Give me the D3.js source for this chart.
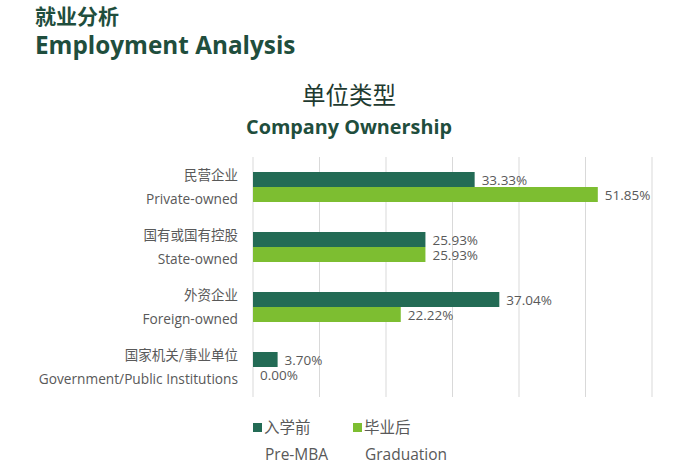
<!DOCTYPE html>
<html><head><meta charset="utf-8">
<script src="https://cdn.jsdelivr.net/npm/d3@7"></script>
<style>body{margin:0;background:#fff}</style>
</head><body>
<script>
const categoriesZh = ["民营企业","国有或国有控股","外资企业","国家机关/事业单位"];
const categoriesEn = ["Private-owned","State-owned","Foreign-owned","Government/Public Institutions"];
const preMBA = [33.33, 25.93, 37.04, 3.70];
const graduation = [51.85, 25.93, 22.22, 0.00];
const seriesNames = ["入学前","毕业后"];
const seriesEn = ["Pre-MBA","Graduation"];
const xTicks = [0,10,20,30,40,50,60];
const colors = ["#236B55","#7DBE31"];

const W=697,H=476;
const svg=d3.select("body").append("svg").attr("width",W).attr("height",H);
const font="'Open Sans','Noto Sans CJK SC',sans-serif";
const title="#1F4E3D";

svg.append("text").attr("x",35).attr("y",24).attr("font-family","'Noto Sans CJK SC',sans-serif").attr("font-weight","bold").attr("font-size",21).attr("fill",title).text("就业分析");
svg.append("text").attr("x",35).attr("y",54).attr("font-family",font).attr("font-weight","bold").attr("font-size",24.3).attr("fill",title).text("Employment Analysis");
svg.append("text").attr("x",349).attr("y",104).attr("text-anchor","middle").attr("font-family","'Noto Sans CJK SC',sans-serif").attr("font-size",23.5).attr("fill","#1e3a30").text("单位类型");
svg.append("text").attr("x",349).attr("y",134).attr("text-anchor","middle").attr("font-family",font).attr("font-weight","bold").attr("font-size",19.8).attr("fill",title).text("Company Ownership");

const x=d3.scaleLinear().domain([0,60]).range([253,652]);
const y=d3.scaleBand().domain(d3.range(categoriesZh.length)).range([157,397]).paddingInner(0.5).paddingOuter(0.25);
const ySub=d3.scaleBand().domain([0,1]).range([0,y.bandwidth()]);

svg.append("g").selectAll("line").data(xTicks).join("line")
 .attr("x1",d=>x(d)).attr("x2",d=>x(d)).attr("y1",157).attr("y2",397)
 .attr("stroke","#d9d9d9").attr("stroke-width",1);

const series=[preMBA,graduation];
series.forEach((vals,si)=>{
  const g=svg.append("g");
  g.selectAll("rect").data(vals).join("rect")
   .attr("x",x(0)).attr("y",(d,i)=>y(i)+ySub(si)).attr("width",d=>x(d)-x(0)).attr("height",ySub.bandwidth())
   .attr("fill",colors[si]);
  g.selectAll("text").data(vals).join("text")
   .attr("x",d=>x(d)+7).attr("y",(d,i)=>y(i)+ySub(si)+ySub.bandwidth()/2+5)
   .attr("font-family",font).attr("font-size",13.5).attr("fill","#595959")
   .text(d=>d.toFixed(2)+"%");
});

const lab=svg.append("g");
categoriesZh.forEach((c,i)=>{
  lab.append("text").attr("x",238).attr("y",y(i)+ySub(0)+8).attr("text-anchor","end")
    .attr("font-family","'Noto Sans CJK SC',sans-serif").attr("font-size",13.5).attr("fill","#595959").text(c);
  lab.append("text").attr("x",238).attr("y",y(i)+ySub(1)+17).attr("text-anchor","end")
    .attr("font-family",font).attr("font-size",13.7).attr("fill","#595959").text(categoriesEn[i]);
});

const legX=[253,353];
seriesNames.forEach((s,i)=>{
  svg.append("rect").attr("x",legX[i]).attr("y",423).attr("width",9).attr("height",9).attr("fill",colors[i]);
  svg.append("text").attr("x",legX[i]+11).attr("y",433).attr("font-family","'Noto Sans CJK SC',sans-serif").attr("font-size",15.5).attr("fill","#595959").text(s);
  svg.append("text").attr("x",legX[i]+12).attr("y",460).attr("font-family",font).attr("font-size",15.5).attr("fill","#595959").text(seriesEn[i]);
});
</script>
</body></html>
